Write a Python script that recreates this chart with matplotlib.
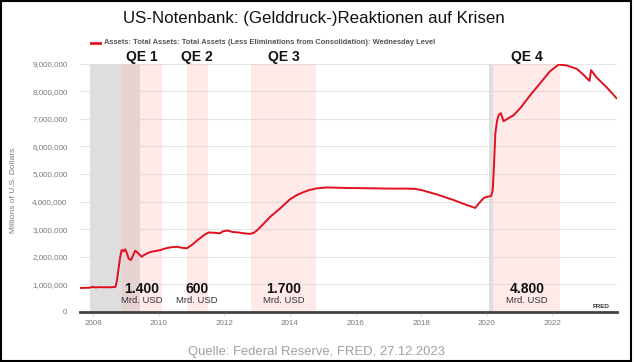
import matplotlib
matplotlib.use('Agg')
import matplotlib.pyplot as plt
from matplotlib.patches import Rectangle
from matplotlib.ticker import FuncFormatter

# weekly Fed balance sheet (millions of USD)
years = [2007.6, 2007.9, 2008.0, 2008.05, 2008.2, 2008.5, 2008.68, 2008.72, 2008.77,
         2008.82, 2008.87, 2008.93, 2008.98, 2009.04, 2009.08, 2009.15, 2009.22,
         2009.28, 2009.33, 2009.38, 2009.48, 2009.55, 2009.64, 2009.74, 2009.85,
         2010.04, 2010.2, 2010.35, 2010.55, 2010.75, 2010.86, 2011.0, 2011.2,
         2011.4, 2011.52, 2011.7, 2011.87, 2011.95, 2012.08, 2012.25, 2012.43,
         2012.6, 2012.79, 2012.9, 2012.99, 2013.2, 2013.4, 2013.7, 2014.0, 2014.2,
         2014.41, 2014.6, 2014.82, 2015.12, 2015.5, 2015.84, 2016.5, 2017.0,
         2017.5, 2017.8, 2018.0, 2018.5, 2019.0, 2019.4, 2019.65, 2019.75,
         2019.9, 2020.0, 2020.13, 2020.18, 2020.22, 2020.26, 2020.31, 2020.36,
         2020.43, 2020.51, 2020.82, 2021.02, 2021.33, 2021.63, 2021.93, 2022.19,
         2022.44, 2022.75, 2022.95, 2023.13, 2023.18, 2023.35, 2023.66, 2023.95]
assets = [870000, 880000, 915000, 890000, 900000, 895000, 905000, 1100000, 1520000,
          1950000, 2250000, 2200000, 2270000, 2100000, 1940000, 1880000, 2050000,
          2220000, 2180000, 2120000, 2000000, 2060000, 2120000, 2170000, 2200000,
          2240000, 2300000, 2340000, 2360000, 2320000, 2310000, 2420000, 2620000,
          2800000, 2880000, 2870000, 2850000, 2920000, 2950000, 2900000, 2880000,
          2850000, 2830000, 2870000, 2950000, 3200000, 3450000, 3750000, 4080000, 4230000,
          4340000, 4420000, 4480000, 4510000, 4500000, 4490000, 4480000, 4470000,
          4470000, 4460000, 4420000, 4250000, 4050000, 3870000, 3770000, 3920000,
          4120000, 4170000, 4200000, 4400000, 5300000, 6450000, 6900000, 7130000,
          7200000, 6910000, 7130000, 7380000, 7860000, 8290000, 8720000, 8960000,
          8930000, 8800000, 8590000, 8370000, 8760000, 8490000, 8130000, 7750000]

# recessions (grey) and QE programmes (pink)
recessions = [(2007.92, 2009.42), (2020.08, 2020.2)]
qe_names = ['QE 1', 'QE 2', 'QE 3', 'QE 4']
qe_periods = [(2008.87, 2010.1), (2010.85, 2011.5), (2012.8, 2014.8), (2020.2, 2022.24)]
qe_amounts = ['1.400', '600', '1.700', '4.800']

yticks = [0, 1000000, 2000000, 3000000, 4000000, 5000000, 6000000, 7000000, 8000000, 9000000]
xticks = [2008, 2010, 2012, 2014, 2016, 2018, 2020, 2022]

red = '#e0101f'
grey_txt = '#7a7a7a'
narrow = ['Liberation Sans Narrow', 'Liberation Sans', 'DejaVu Sans']
sans = ['Liberation Sans', 'DejaVu Sans']

fig = plt.figure(figsize=(6.34, 3.62), dpi=100)
ax = fig.add_axes([80/634, 1 - 312/362, 537/634, (312 - 63.5)/362])

for a, b in recessions:
    ax.axvspan(a, b, color='#dedede', lw=0, zorder=1)
for a, b in qe_periods:
    ax.axvspan(a, b, color='#ffb3b3', alpha=0.28, lw=0, zorder=2)

for y in yticks[1:]:
    ax.axhline(y, color='#e6e6e6', lw=0.8, zorder=0)

ax.plot(years, assets, color=red, lw=1.4, zorder=4)

ax.set_xlim(2007.6, 2023.97)
ax.set_ylim(0, 9000000)
ax.set_yticks(yticks)
ax.set_xticks(xticks)
ax.yaxis.set_major_formatter(FuncFormatter(lambda v, p: f'{int(v):,}'))
ax.tick_params(axis='y', length=0, pad=9, labelsize=5.8, labelcolor=grey_txt)
ax.tick_params(axis='x', length=3, width=0.5, color='#cccccc', pad=3,
               labelsize=5.8, labelcolor=grey_txt)
for lab in ax.get_xticklabels() + ax.get_yticklabels():
    lab.set_family(sans)
for s in ['top', 'right', 'left']:
    ax.spines[s].set_visible(False)
ax.spines['bottom'].set_color('#444444')
ax.spines['bottom'].set_linewidth(2)
ax.spines['bottom'].set_zorder(5)

ax.set_ylabel('Millions of U.S. Dollars', family=narrow, fontsize=6,
              color=grey_txt)
ax.yaxis.set_label_coords(-63/537, 0.49)

# QE labels
for name, (a, b), amt in zip(qe_names, qe_periods, qe_amounts):
    mid = (a + b) / 2
    ax.text(mid, 9250000, name, ha='center', va='center', fontsize=10,
            fontweight='bold', family=sans, color='#111111', clip_on=False)
    ax.text(mid, 830000, amt, ha='center', va='center', fontsize=10,
            fontweight='bold', family=sans, color='#111111', zorder=6)
    ax.text(mid, 420000, 'Mrd. USD', ha='center', va='center', fontsize=6.8,
            family=sans, color='#333333', zorder=6)

ax.text(2023.75, 200000, 'FRED', ha='right', va='center', fontsize=4.5,
        fontweight='bold', family=sans, color='#333333')

# title, legend, source
fig.text(314/634, 1 - 18/362, 'US-Notenbank: (Gelddruck-)Reaktionen auf Krisen',
         ha='center', va='center', fontsize=12.2, family=narrow, color='#111111')
fig.add_artist(plt.Line2D([91/634, 100/634], [1 - 43/362, 1 - 43/362],
                          color=red, lw=2, transform=fig.transFigure))
fig.text(104/634, 1 - 43/362,
         'Assets: Total Assets: Total Assets (Less Eliminations from Consolidation): Wednesday Level',
         ha='left', va='center', fontsize=5.4, fontweight='bold', family=sans,
         color='#555555')
fig.text(316/634, 1 - 352/362, 'Quelle: Federal Reserve, FRED, 27.12.2023',
         ha='center', va='center', fontsize=9.4, family=sans, color='#a0a0a0')

fig.add_artist(Rectangle((0.001, 0.003), 0.995, 0.995, transform=fig.transFigure,
                         fill=False, edgecolor='black', lw=1.5))

fig.savefig('out.png', dpi=100)
